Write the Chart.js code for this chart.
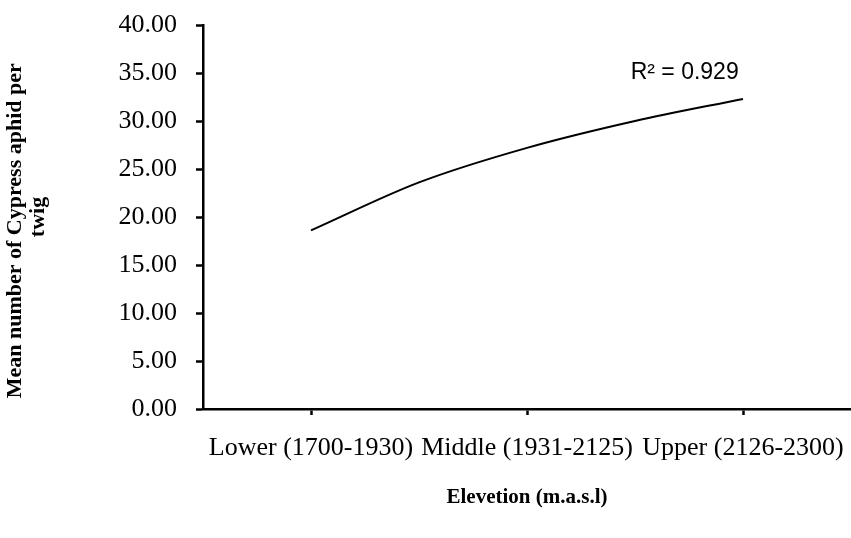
<!DOCTYPE html>
<html>
<head>
<meta charset="utf-8">
<script src="https://cdn.jsdelivr.net/npm/chart.js@4.4.0/dist/chart.umd.min.js"></script>
<style>
  html, body { margin: 0; padding: 0; background: #fff; }
  #wrap { width: 851px; height: 538px; }
</style>
</head>
<body>
<div id="wrap"><canvas id="aphidChart" width="851" height="538"></canvas></div>
<script>
// categories on the x axis
const elevationLabels = ['Lower (1700-1930)', 'Middle (1931-2125)', 'Upper (2126-2300)'];
// trend line (x = category position, 1..3)
const curvePositions = [1, 1.5, 2, 2.5, 3];
const aphidMeans = [18.6, 23.6, 27.2, 30.0, 32.3];
const yMin = 0, yMax = 40, yStep = 5;
const r2Text = 'R\u00B2 = 0.929';
const r2Position = [2.73, 35.05];

const serif = '"Liberation Serif", "Times New Roman", serif';

const r2Plugin = {
    id: 'r2Text',
    afterDatasetsDraw(chart) {
        const { ctx, scales: { x, y } } = chart;
        ctx.save();
        ctx.font = '23px "Liberation Sans", Arial, sans-serif';
        ctx.fillStyle = '#000';
        ctx.textAlign = 'center';
        ctx.textBaseline = 'middle';
        ctx.fillText(r2Text, x.getPixelForValue(r2Position[0]), y.getPixelForValue(r2Position[1]));
        ctx.restore();
    }
};

const ctx = document.getElementById('aphidChart').getContext('2d');
let chart = new Chart(ctx, {
    type: 'line',
    data: {
        datasets: [{
            data: curvePositions.map((x, i) => ({ x: x, y: aphidMeans[i] })),
            borderColor: '#000',
            borderWidth: 2,
            pointRadius: 0,
            cubicInterpolationMode: 'monotone',
            fill: false
        }]
    },
    options: {
        responsive: false,
        animation: false,
        layout: { padding: { top: 25, right: 0, bottom: 0, left: 0 } },
        plugins: { legend: { display: false }, tooltip: { enabled: false } },
        scales: {
            x: {
                type: 'linear',
                min: 0.5,
                max: elevationLabels.length + 0.5,
                afterBuildTicks: s => { s.ticks = elevationLabels.map((_, i) => ({ value: i + 1 })); },
                afterFit: s => { s.height = 129; s.paddingLeft = 0; s.paddingRight = 0; },
                ticks: {
                    callback: v => elevationLabels[v - 1],
                    autoSkip: false,
                    maxRotation: 0,
                    color: '#000',
                    padding: 18,
                    font: { family: serif, size: 26 }
                },
                grid: { drawOnChartArea: false, drawTicks: true, tickLength: 6, tickWidth: 2.5, tickColor: '#000' },
                border: { color: '#000', width: 2.5 },
                title: {
                    display: true,
                    text: 'Elevetion (m.a.s.l)',
                    color: '#000',
                    font: { family: serif, size: 21, weight: 'bold', lineHeight: 1.1 },
                    padding: { top: 4, bottom: 29 }
                }
            },
            y: {
                min: yMin,
                max: yMax,
                afterFit: s => { s.width = 203; s.paddingTop = 0; s.paddingBottom = 0; },
                ticks: {
                    stepSize: yStep,
                    callback: v => v.toFixed(2),
                    color: '#000',
                    padding: 19,
                    font: { family: serif, size: 26 }
                },
                grid: { drawOnChartArea: false, drawTicks: true, tickLength: 7, tickWidth: 2.5, tickColor: '#000' },
                border: { color: '#000', width: 2.5 },
                title: {
                    display: true,
                    // trailing spaces nudge the long line a little lower, like the original
                    text: ['Mean number of Cypress aphid per     ', 'twig'],
                    color: '#000',
                    font: { family: serif, size: 22, weight: 'bold', lineHeight: 1.05 },
                    padding: { top: 4, bottom: 0 }
                }
            }
        }
    },
    plugins: [r2Plugin]
});
</script>
</body>
</html>
